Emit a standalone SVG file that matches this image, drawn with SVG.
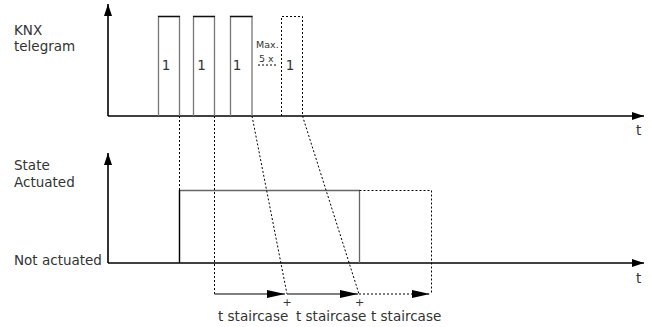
<svg xmlns="http://www.w3.org/2000/svg" width="652" height="327" viewBox="0 0 652 327">
<defs>
<marker id="ah" markerWidth="12" markerHeight="8" refX="12" refY="4" orient="auto" markerUnits="userSpaceOnUse">
<path d="M0,0 L12,4 L0,8 Z" fill="#000"/>
</marker>
<marker id="ahs" markerWidth="18" markerHeight="8" refX="18" refY="4" orient="auto" markerUnits="userSpaceOnUse">
<path d="M0,0 L18,4 L0,8 Z" fill="#000"/>
</marker>
</defs>
<style>
text{font-family:"DejaVu Sans","Liberation Sans",Arial,sans-serif;fill:#333;font-size:13.5px}
.small{font-size:9.5px}
.plus{font-size:11px}
.ax{stroke:#000;stroke-width:1.6;fill:none}
.pulse{fill:none;stroke:#777;stroke-width:1.3}
.top{stroke:#111;stroke-width:1.3}
.dot{stroke:#000;stroke-width:1;stroke-dasharray:2,2;fill:none}
.sol{stroke:#555;stroke-width:1.3;fill:none}
</style>
<g id="axes">
<line class="ax" x1="108" y1="116" x2="108" y2="4" marker-end="url(#ah)"/>
<line class="ax" x1="108" y1="116" x2="644" y2="116" marker-end="url(#ah)"/>
<line class="ax" x1="108" y1="263" x2="108" y2="153" marker-end="url(#ah)"/>
<line class="ax" x1="108" y1="263" x2="644" y2="263" marker-end="url(#ah)"/>
</g>
<g id="labels">
<text x="14" y="35">KNX</text>
<text x="14" y="51">telegram</text>
<text x="14" y="170">State</text>
<text x="14" y="187">Actuated</text>
<text x="14" y="265">Not actuated</text>
<text x="636" y="135">t</text>
<text x="636" y="283">t</text>
</g>
<g id="pulse1">
<path class="pulse" d="M158.5,116 V16.5 H179.5 V116"/>
<line class="top" x1="158" y1="16.5" x2="180" y2="16.5"/>
<text x="166" y="70" text-anchor="middle">1</text>
</g>
<g id="pulse2">
<path class="pulse" d="M193.5,116 V16.5 H214.5 V116"/>
<line class="top" x1="193" y1="16.5" x2="215" y2="16.5"/>
<text x="201.5" y="70" text-anchor="middle">1</text>
</g>
<g id="pulse3">
<path class="pulse" d="M230.5,116 V16.5 H252 V116"/>
<line class="top" x1="230" y1="16.5" x2="252.5" y2="16.5"/>
<text x="237" y="70" text-anchor="middle">1</text>
</g>
<g id="max">
<text x="256" y="48" class="small">Max.</text>
<text x="259" y="61.5" class="small">5 x</text>
<line class="dot" x1="258" y1="65" x2="276" y2="65"/>
</g>
<g id="pulse4">
<path class="dot" d="M281.5,116 V16.5 H302.5 V116"/>
<text x="290" y="70" text-anchor="middle">1</text>
</g>
<g id="state">
<path class="sol" d="M179.5,263 V190.5 H359.5 V263" style="stroke:#666"/>
<line x1="179.5" y1="190" x2="179.5" y2="263" stroke="#000" stroke-width="1.3"/>
<path class="dot" d="M359.5,190.5 H431.5 V294"/>
</g>
<g id="connectors">
<line class="dot" x1="179.5" y1="116" x2="179.5" y2="190"/>
<line class="dot" x1="214.5" y1="116" x2="214.5" y2="294"/>
<line class="dot" x1="252" y1="116" x2="287" y2="294"/>
<line class="dot" x1="302.5" y1="116" x2="359" y2="294"/>
<line class="sol" x1="214.5" y1="294" x2="285" y2="294" marker-end="url(#ahs)"/>
<line class="sol" x1="287" y1="294" x2="358" y2="294" marker-end="url(#ahs)"/>
<line class="dot" x1="359" y1="294" x2="430" y2="294" marker-end="url(#ahs)"/>
</g>
<g id="staircase">
<text x="287" y="306" text-anchor="middle" class="plus">+</text>
<text x="359.5" y="306" text-anchor="middle" class="plus">+</text>
<text x="218" y="321">t staircase</text>
<text x="296" y="321">t staircase</text>
<text x="371" y="321">t staircase</text>
</g>
</svg>
